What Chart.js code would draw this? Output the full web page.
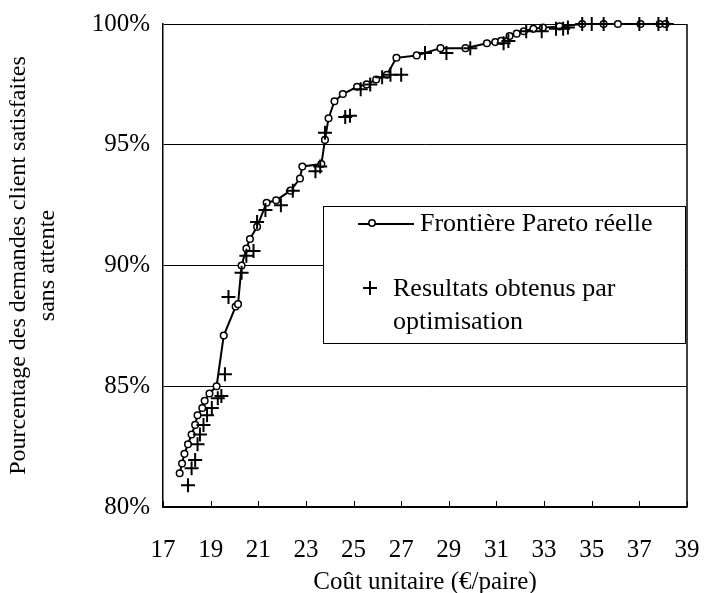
<!DOCTYPE html>
<html>
<head>
<meta charset="utf-8">
<script src="https://cdn.jsdelivr.net/npm/chart.js@4.4.1/dist/chart.umd.min.js"></script>
<style>
  html, body { margin: 0; padding: 0; background: #fff; }
  #wrap { width: 704px; height: 593px; }
</style>
</head>
<body>
<div id="wrap"><canvas id="paretoChart" width="704" height="593"></canvas></div>
<script>
// Frontière Pareto réelle (coût unitaire, % satisfaites)
const paretoCost = [17.7, 17.8, 17.9, 18.05, 18.2, 18.35, 18.45, 18.65, 18.75, 18.95, 19.25, 19.55, 20.05, 20.15,
  20.3, 20.5, 20.65, 20.95, 21.35, 21.75, 22.35, 22.75, 22.85, 23.65, 23.8, 23.95, 24.2, 24.55, 25.15, 25.55,
  25.95, 26.4, 26.8, 27.65, 28.65, 29.7, 30.6, 30.95, 31.2, 31.55, 31.85, 32.15, 32.55, 32.95, 33.65, 34.6,
  35.5, 36.1, 37.05, 37.85, 38.1];
const paretoRate = [81.4, 81.8, 82.2, 82.6, 83.0, 83.4, 83.8, 84.1, 84.4, 84.7, 85.0, 87.1, 88.3, 88.4,
  90.0, 90.7, 91.1, 91.6, 92.6, 92.7, 93.1, 93.6, 94.1, 94.2, 95.2, 96.1, 96.8, 97.1, 97.4, 97.5,
  97.7, 97.9, 98.6, 98.7, 99.0, 99.0, 99.2, 99.25, 99.3, 99.5, 99.6, 99.7, 99.8, 99.85, 99.9, 100.0,
  100.0, 100.0, 100.0, 100.0, 100.0];

// Résultats obtenus par optimisation
const optimCost = [18.05, 18.2, 18.35, 18.45, 18.55, 18.7, 18.85, 19.05, 19.3, 19.45, 19.6, 19.75, 20.3, 20.5,
  20.8, 20.95, 21.3, 21.95, 22.45, 23.4, 23.6, 23.8, 24.65, 24.85, 25.3, 25.7, 26.2, 26.55, 27.0,
  28.0, 28.9, 29.9, 31.3, 31.5, 32.25, 32.9, 33.5, 33.8, 34.0, 34.6, 35.0, 35.5, 37.0, 37.8, 38.15];
const optimRate = [80.9, 81.6, 81.95, 82.6, 83.0, 83.4, 83.8, 84.1, 84.5, 84.6, 85.5, 88.7, 89.7, 90.4,
  90.6, 91.8, 92.3, 92.5, 93.1, 93.9, 94.1, 95.5, 96.15, 96.2, 97.3, 97.5, 97.8, 97.9, 97.9,
  98.8, 98.8, 99.0, 99.2, 99.3, 99.7, 99.7, 99.8, 99.8, 99.85, 100.0, 100.0, 100.0, 100.0, 100.0, 100.0];

const xTicks = [17, 19, 21, 23, 25, 27, 29, 31, 33, 35, 37, 39];
const yTicks = [80, 85, 90, 95, 100];

const serif = "'Liberation Serif', 'Times New Roman', serif";

// bordure droite, petites graduations intérieures et cadre de légende
const framePlugin = {
  id: 'frame',
  afterDraw(chart) {
    const ctx = chart.ctx;
    const a = chart.chartArea;
    const xs = chart.scales.x;
    ctx.save();
    ctx.strokeStyle = '#000';
    ctx.lineWidth = 1.5;
    ctx.beginPath();
    ctx.moveTo(a.right, a.top);
    ctx.lineTo(a.right, a.bottom);
    ctx.stroke();
    ctx.lineWidth = 1;
    xTicks.forEach(v => {
      const px = Math.round(xs.getPixelForValue(v)) + 0.5;
      ctx.beginPath();
      ctx.moveTo(px, a.bottom);
      ctx.lineTo(px, a.bottom - 6);
      ctx.stroke();
    });

    // légende
    const lx = 323, ly = 206, lw = 362, lh = 137;
    ctx.fillStyle = '#fff';
    ctx.fillRect(lx, ly, lw, lh);
    ctx.lineWidth = 1;
    ctx.strokeRect(lx + 0.5, ly + 0.5, lw, lh);

    ctx.lineWidth = 2;
    ctx.beginPath();
    ctx.moveTo(358, 224);
    ctx.lineTo(414, 224);
    ctx.stroke();
    ctx.beginPath();
    ctx.arc(372, 223, 3.2, 0, Math.PI * 2);
    ctx.fillStyle = '#fff';
    ctx.fill();
    ctx.lineWidth = 1.5;
    ctx.stroke();

    ctx.lineWidth = 2;
    ctx.beginPath();
    ctx.moveTo(363, 288);
    ctx.lineTo(377, 288);
    ctx.moveTo(370, 281);
    ctx.lineTo(370, 295);
    ctx.stroke();

    ctx.fillStyle = '#000';
    ctx.font = '26px ' + serif;
    ctx.textBaseline = 'middle';
    ctx.textAlign = 'left';
    ctx.fillText('Frontière Pareto réelle', 420, 224);
    ctx.fillText('Resultats obtenus par', 393, 289);
    ctx.fillText('optimisation', 393, 322);
    ctx.restore();
  }
};

const ctx = document.getElementById('paretoChart').getContext('2d');
new Chart(ctx, {
  type: 'scatter',
  data: {
    datasets: [
      {
        label: 'Frontière Pareto réelle',
        data: paretoCost.map((c, i) => ({ x: c, y: paretoRate[i] })),
        showLine: true,
        borderColor: '#000',
        borderWidth: 2,
        backgroundColor: '#fff',
        pointStyle: 'circle',
        pointRadius: 3.3,
        pointBorderWidth: 1.5,
        pointBackgroundColor: '#fff',
        pointBorderColor: '#000',
        tension: 0,
        clip: false,
        order: 2
      },
      {
        label: 'Resultats obtenus par optimisation',
        data: optimCost.map((c, i) => ({ x: c, y: optimRate[i] })),
        showLine: false,
        pointStyle: 'cross',
        pointRadius: 7,
        pointBorderWidth: 2,
        borderColor: '#000',
        pointBorderColor: '#000',
        clip: false,
        order: 1
      }
    ]
  },
  options: {
    responsive: false,
    animation: false,
    layout: { padding: { top: 24, right: 0, left: 0, bottom: 0 } },
    plugins: {
      legend: { display: false },
      tooltip: { enabled: false }
    },
    scales: {
      x: {
        type: 'linear',
        min: 17,
        max: 39,
        afterFit: s => { s.height = 86; s.paddingLeft = 0; s.paddingRight = 17; },
        afterBuildTicks: s => { s.ticks = xTicks.map(v => ({ value: v })); },
        grid: { display: false, drawTicks: false },
        border: { display: true, color: '#000', width: 1.5 },
        ticks: {
          color: '#000',
          font: { family: serif, size: 25 },
          padding: 28,
          maxRotation: 0
        },
        title: {
          display: true,
          text: 'Coût unitaire (€/paire)',
          color: '#000',
          font: { family: serif, size: 25, lineHeight: 0.85 },
          padding: { top: 0, bottom: 0 }
        }
      },
      y: {
        min: 80,
        max: 100,
        afterFit: s => { s.width = 163; s.paddingTop = 0; s.paddingBottom = 0; },
        afterBuildTicks: s => { s.ticks = yTicks.map(v => ({ value: v })); },
        grid: { color: '#000', lineWidth: 1, drawTicks: false },
        border: { display: true, color: '#000', width: 1.5 },
        ticks: {
          color: '#000',
          font: { family: serif, size: 25 },
          padding: 13,
          callback: v => v + '%'
        },
        title: {
          display: true,
          text: ['Pourcentage des demandes client satisfaites', 'sans attente'],
          color: '#000',
          font: { family: serif, size: 24, lineHeight: '29px' },
          padding: { top: 4, bottom: 0 }
        }
      }
    }
  },
  plugins: [framePlugin]
});
</script>
</body>
</html>
